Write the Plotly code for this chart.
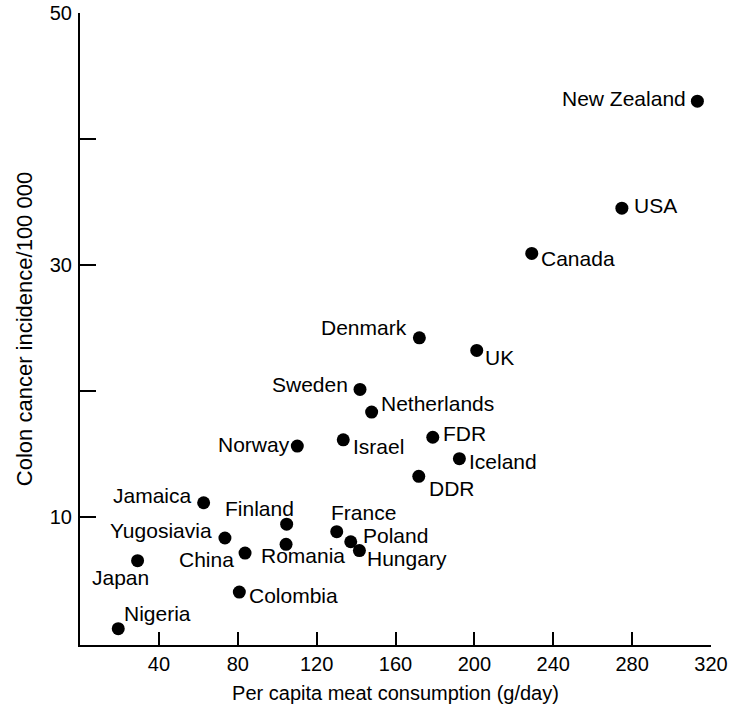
import plotly.graph_objects as go

countries = ["New Zealand", "USA", "Canada", "Denmark", "UK", "Sweden", "Netherlands",
             "Norway", "Israel", "FDR", "Iceland", "DDR", "Jamaica", "Finland", "France",
             "Poland", "Hungary", "Yugosiavia", "Romania", "China", "Japan", "Colombia", "Nigeria"]
meat = [313.1, 274.8, 229.1, 172.1, 201.2, 142.0, 147.9,
        110.2, 133.5, 178.9, 192.4, 171.8, 62.7, 104.8, 130.2,
        137.3, 141.7, 73.5, 104.5, 83.7, 29.2, 80.8, 19.4]
incidence = [43.0, 34.5, 30.9, 24.2, 23.2, 20.1, 18.3,
             15.6, 16.1, 16.3, 14.6, 13.2, 11.1, 9.4, 8.8,
             8.0, 7.3, 8.3, 7.8, 7.1, 6.5, 4.0, 1.1]

x_ticks = [40, 80, 120, 160, 200, 240, 280, 320]
y_ticks = [10, 20, 30, 40, 50]
y_ticktext = ["10", "", "30", "", "50"]

# label placement (anchor, x offset px, y offset px)
label_pos = {
    "New Zealand": ("right", -10, 3), "USA": ("left", 11, 3), "Canada": ("left", 8, -5),
    "Denmark": ("right", -11, 10), "UK": ("left", 7, -7), "Sweden": ("right", -11, 5),
    "Netherlands": ("left", 8, 9), "Norway": ("right", -6, 2), "Israel": ("left", 9, -7),
    "FDR": ("left", 9, 4), "Iceland": ("left", 9, -3), "DDR": ("left", 9, -12),
    "Jamaica": ("right", -11, 7), "Finland": ("center", -27, 16), "France": ("center", 27, 19),
    "Poland": ("left", 11, 6), "Hungary": ("left", 7, -8), "Yugosiavia": ("right", -12, 7),
    "Romania": ("center", 17, -11), "China": ("right", -10, -6), "Japan": ("center", -17, -17),
    "Colombia": ("left", 9, -3), "Nigeria": ("left", 5, 15),
}

FONT = "Liberation Sans, Arial, Helvetica, sans-serif"

fig = go.Figure()
fig.add_trace(go.Scatter(
    x=meat, y=incidence, mode="markers",
    marker=dict(size=13, color="black"),
    hoverinfo="text", text=countries, showlegend=False,
))

annotations = []
for c, xv, yv in zip(countries, meat, incidence):
    anc, dx, dy = label_pos[c]
    annotations.append(dict(
        x=xv, y=yv, xref="x", yref="y", text=c, showarrow=False,
        xanchor=anc, yanchor="middle", xshift=dx, yshift=dy, borderpad=0,
        font=dict(family=FONT, size=21, color="black"),
    ))

fig.update_layout(
    width=729, height=709,
    margin=dict(l=80, r=18, t=13, b=64, autoexpand=False),
    paper_bgcolor="white", plot_bgcolor="white",
    font=dict(family=FONT, color="black"),
    annotations=annotations,
    xaxis=dict(
        range=[0, 320], tickvals=x_ticks, ticks="inside", ticklen=13, tickwidth=1.5,
        tickcolor="black", showline=True, linecolor="black", linewidth=2,
        showgrid=False, zeroline=False, tickfont=dict(size=20, family=FONT),
        automargin=False,
        title=dict(text="Per capita meat consumption (g/day)", font=dict(size=20, family=FONT), standoff=12),
    ),
    yaxis=dict(
        range=[-0.2, 50], tickvals=y_ticks, ticktext=y_ticktext, ticks="inside", ticklen=16,
        tickwidth=1.5, tickcolor="black", showline=True, linecolor="black", linewidth=2,
        showgrid=False, zeroline=False, tickfont=dict(size=20, family=FONT),
        automargin=False, ticklabelstandoff=2,
        title=dict(text="Colon cancer incidence/100 000", font=dict(size=22, family=FONT), standoff=11),
    ),
)

fig.write_html("out.html")
